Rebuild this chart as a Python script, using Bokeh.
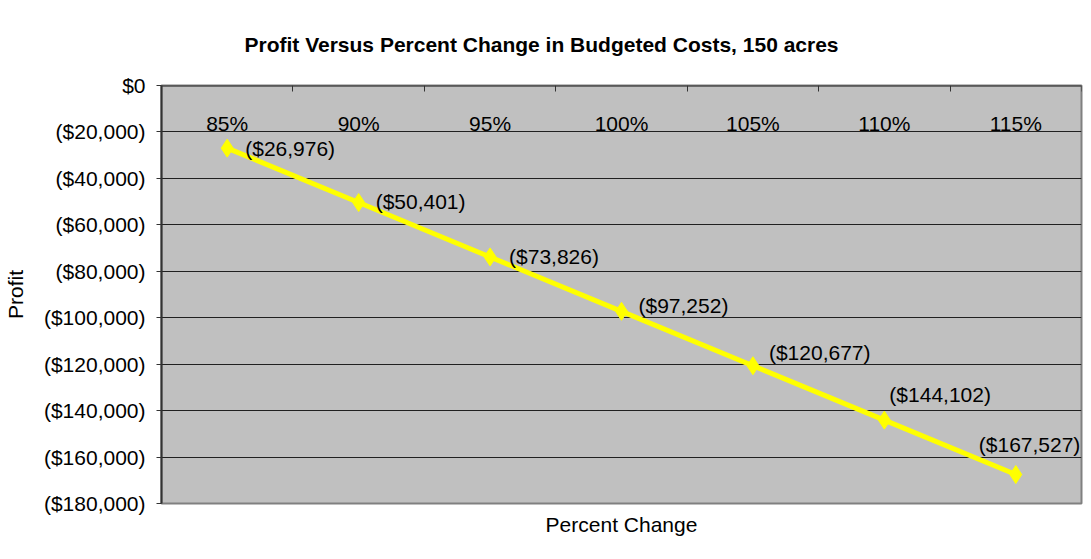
from bokeh.plotting import figure
from bokeh.models import FixedTicker, Range1d, Title, ColumnDataSource
from bokeh.core.properties import value
from bokeh.embed import file_html
from bokeh.resources import INLINE

categories = ["85%", "90%", "95%", "100%", "105%", "110%", "115%"]
profit = [-26976, -50401, -73826, -97252, -120677, -144102, -167527]
profit_labels = ["($26,976)", "($50,401)", "($73,826)", "($97,252)",
                 "($120,677)", "($144,102)", "($167,527)"]
ytick_values = [0, -20000, -40000, -60000, -80000, -100000, -120000,
                -140000, -160000, -180000]
ytick_labels = ["$0", "($20,000)", "($40,000)", "($60,000)", "($80,000)",
                "($100,000)", "($120,000)", "($140,000)", "($160,000)",
                "($180,000)"]

# label placement (pixels, style only)
label_dx = [18, 17, 19, 17, 16, 5, -37]
label_dy = [0, -1, 0, -6, -13, -26, -30]

FONT = "Liberation Sans"

xs = list(range(len(categories)))
source = ColumnDataSource(dict(x=xs, y=profit, label=profit_labels,
                               dx=label_dx, dy=label_dy))

p = figure(width=1083, height=543, output_backend="svg", toolbar_location=None,
           x_range=Range1d(-0.5, len(categories) - 0.5),
           y_range=Range1d(min(ytick_values), max(ytick_values)),
           min_border_left=154, min_border_right=2, min_border_top=84,
           min_border_bottom=40)

p.background_fill_color = "#C0C0C0"
p.border_fill_color = "white"
p.outline_line_color = "#808080"
p.outline_line_width = 2

# title (centred over the whole chart, not only the plot area)
p.title.text = "Profit Versus Percent Change in Budgeted Costs, 150 acres"
p.title.align = "left"
p.title.offset = 83
p.title.text_font = FONT
p.title.text_font_size = "21px"
p.title.text_font_style = "bold"
p.title.text_color = "black"
p.title.standoff = 60

# x axis: crosses at y = 0 (top of plot area)
xa = p.xaxis[0]
xa.fixed_location = 0
xa.ticker = FixedTicker(ticks=xs, minor_ticks=[i - 0.5 for i in range(len(categories) + 1)])
xa.major_label_overrides = {i: c for i, c in zip(xs, categories)}
xa.major_tick_out = 0
xa.major_tick_in = 0
xa.minor_tick_out = 6
xa.minor_tick_in = 0
xa.minor_tick_line_color = "#333333"
xa.axis_line_color = "#333333"
xa.axis_line_width = 2
xa.major_label_standoff = 20
xa.major_label_text_font = FONT
xa.major_label_text_font_size = "21px"
xa.major_label_text_color = "black"

p.add_layout(Title(text="Percent Change", align="center", text_font=FONT,
                   text_font_size="21px", text_font_style="normal",
                   text_color="black", standoff=15), "below")

# y axis
ya = p.yaxis[0]
ya.ticker = FixedTicker(ticks=ytick_values)
ya.major_label_overrides = {v: l for v, l in zip(ytick_values, ytick_labels)}
ya.major_tick_out = 5
ya.major_tick_in = 0
ya.minor_tick_out = 0
ya.minor_tick_in = 0
ya.major_tick_line_color = "#333333"
ya.axis_line_color = "#333333"
ya.axis_line_width = 2
ya.major_label_standoff = 11
ya.major_label_text_font = FONT
ya.major_label_text_font_size = "21px"
ya.major_label_text_color = "black"
ya.axis_label = "Profit"
ya.axis_label_text_font = FONT
ya.axis_label_text_font_size = "21px"
ya.axis_label_text_font_style = "normal"
ya.axis_label_text_color = "black"
ya.axis_label_standoff = 14

p.xgrid.visible = False
p.ygrid.ticker = FixedTicker(ticks=ytick_values)
p.ygrid.grid_line_color = "#202020"
p.ygrid.grid_line_width = 1

p.line("x", "y", source=source, line_color="#FFFF00", line_width=5)
p.scatter("x", "y", source=source, marker="diamond", size=18,
          fill_color="#FFFF00", line_color="#FFFF00")
p.text("x", "y", text="label", source=source, x_offset="dx", y_offset="dy",
       text_font=value(FONT), text_font_size="21px", text_color="black",
       text_align="left", text_baseline="middle")

open("out.html", "w").write(file_html(p, INLINE))
